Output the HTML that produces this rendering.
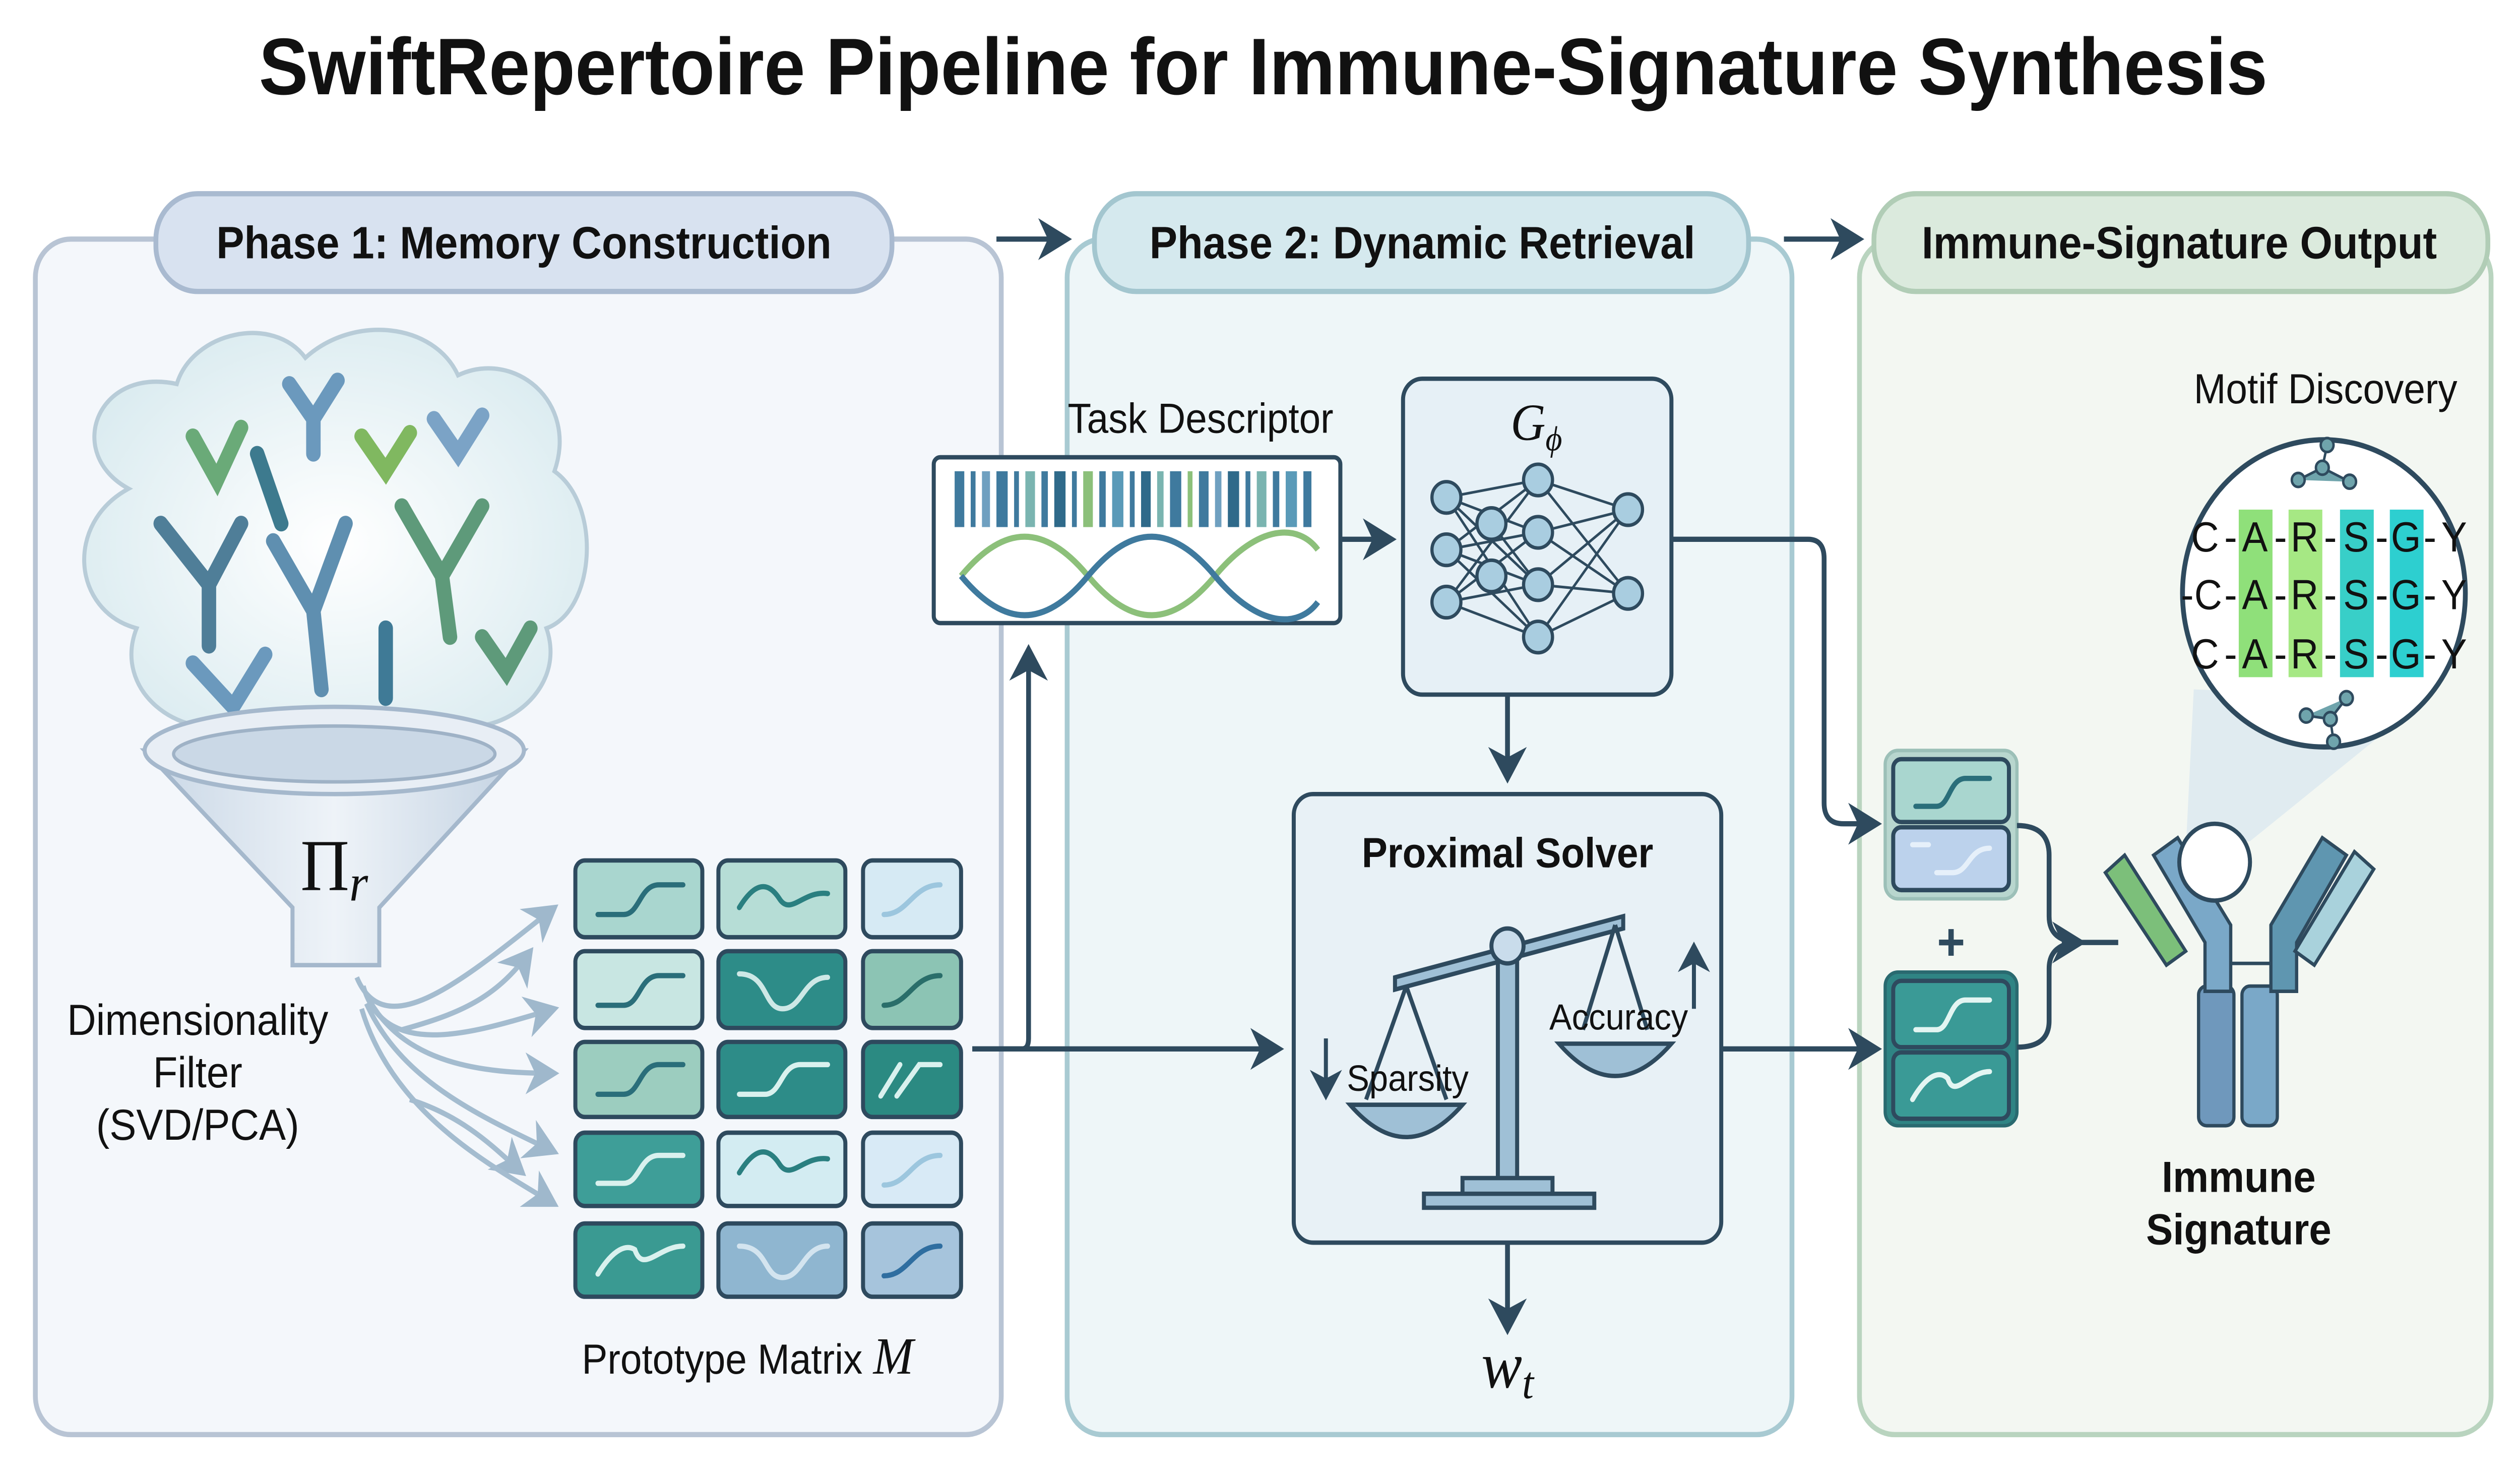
<!DOCTYPE html>
<html><head><meta charset="utf-8"><style>html,body{margin:0;padding:0;background:#fff;overflow:hidden;width:100%;height:100%}svg{display:block;width:100vw;height:100vh}</style></head>
<body>
<svg xmlns="http://www.w3.org/2000/svg" viewBox="0 0 1568 848" preserveAspectRatio="none" font-family="Liberation Sans, sans-serif">
<defs>
<marker id="ah" markerWidth="8" markerHeight="8" refX="6" refY="4" orient="auto" markerUnits="strokeWidth"><path d="M0,0 L7,4 L0,8 L2,4 Z" fill="#2e4a5e"/></marker>
<marker id="ahl" markerWidth="8" markerHeight="8" refX="6" refY="4" orient="auto" markerUnits="strokeWidth"><path d="M0,0 L7,4 L0,8 L2,4 Z" fill="#9fb8cc"/></marker>
<radialGradient id="cl" cx="0.5" cy="0.5" r="0.6"><stop offset="0" stop-color="#ffffff"/><stop offset="1" stop-color="#d8eaef"/></radialGradient>
<linearGradient id="fn" x1="0" x2="1"><stop offset="0" stop-color="#c9d7e6"/><stop offset="0.5" stop-color="#eef3f8"/><stop offset="1" stop-color="#c3d2e2"/></linearGradient>
</defs>
<rect width="1568" height="848" fill="#fff"/>
<text x="786" y="54" text-anchor="middle" font-size="46" font-weight="bold" fill="#111">SwiftRepertoire Pipeline for Immune-Signature Synthesis</text>

<rect x="22" y="137" width="601" height="685" rx="22" fill="#f4f7fb" stroke="#b8c4d4" stroke-width="3"/>
<rect x="664" y="137" width="451" height="685" rx="22" fill="#eef6f8" stroke="#a8cad2" stroke-width="3"/>
<rect x="1157" y="137" width="393" height="685" rx="22" fill="#f3f7f2" stroke="#b9d4bf" stroke-width="3"/>
<rect x="97" y="111" width="458" height="56" rx="26" fill="#d8e2f0" stroke="#a9bad0" stroke-width="3"/>
<rect x="681" y="111" width="407" height="56" rx="26" fill="#d5e9ee" stroke="#a3c6cf" stroke-width="3"/>
<rect x="1166" y="111" width="382" height="56" rx="26" fill="#dbeadd" stroke="#b1cdb6" stroke-width="3"/>
<text x="326" y="148" text-anchor="middle" font-size="26" font-weight="bold" fill="#111">Phase 1: Memory Construction</text>
<text x="885" y="148" text-anchor="middle" font-size="26" font-weight="bold" fill="#111">Phase 2: Dynamic Retrieval</text>
<text x="1356" y="148" text-anchor="middle" font-size="26" font-weight="bold" fill="#111">Immune-Signature Output</text>
<line x1="620" y1="137" x2="664" y2="137" stroke="#2e4a5e" stroke-width="3" marker-end="url(#ah)"/>
<line x1="1110" y1="137" x2="1157" y2="137" stroke="#2e4a5e" stroke-width="3" marker-end="url(#ah)"/>

<path d="M80,280 C40,260 60,210 110,220 C120,190 170,180 190,205 C220,180 270,185 285,215 C320,200 360,230 345,270 C375,290 370,350 340,360 C355,400 300,430 270,410 C240,440 170,440 150,415 C110,425 70,395 85,360 C45,350 40,300 80,280 Z" fill="url(#cl)" stroke="#b8ccd8" stroke-width="2.5"/>
<g stroke-linecap="round" stroke-width="9" fill="none">
<path d="M100,300 L130,335 L150,300 M130,335 L130,370" stroke="#4f7e98"/>
<path d="M170,310 L195,350 L215,300 M195,350 L200,395" stroke="#5f8fb0"/>
<path d="M250,290 L275,330 L300,290 M275,330 L280,365" stroke="#5e9a7a"/>
<path d="M120,250 L135,275 L150,245" stroke="#6aaa78"/>
<path d="M180,220 L195,240 L210,218 M195,240 L195,260" stroke="#6b99bd"/>
<path d="M225,250 L240,270 L255,248" stroke="#80b860"/>
<path d="M270,240 L285,260 L300,238" stroke="#7ba3c6"/>
<path d="M160,260 L175,300" stroke="#3d7a8e"/>
<path d="M240,360 L240,400" stroke="#3f7a96"/>
<path d="M300,365 L315,385 L330,360" stroke="#5e9a7a"/>
<path d="M120,380 L145,405 L165,375" stroke="#6b99bd"/>
<path d="M185,415 L200,440 L215,410" stroke="#80b860"/>
</g>
<path d="M90,430 L182,520 L182,553 L236,553 L236,520 L326,430 Z" fill="url(#fn)" stroke="#a5b8cc" stroke-width="2.5"/>
<ellipse cx="208" cy="430" rx="118" ry="25" fill="#e8eef5" stroke="#a5b8cc" stroke-width="2.5"/>
<ellipse cx="208" cy="432" rx="100" ry="16" fill="#cad8e6" stroke="#9fb2c6" stroke-width="2"/>
<text x="208" y="510" text-anchor="middle" font-family="Liberation Serif, serif" font-size="42" fill="#111">Π<tspan font-style="italic" font-size="30" dy="6">r</tspan></text>
<text x="123" y="593" text-anchor="middle" font-size="25" fill="#111">Dimensionality</text>
<text x="123" y="623" text-anchor="middle" font-size="25" fill="#111">Filter</text>
<text x="123" y="653" text-anchor="middle" font-size="25" fill="#111">(SVD/PCA)</text>
<g stroke="#a4bccf" stroke-width="3" fill="none" marker-end="url(#ahl)">
<path d="M222,560 C240,600 290,560 345,520"/>
<path d="M250,590 C290,580 310,570 330,545"/>
<path d="M226,565 C240,610 300,590 345,578"/>
<path d="M228,570 C250,610 300,615 345,615"/>
<path d="M228,575 C250,620 300,640 345,660"/>
<path d="M255,630 C290,640 310,660 325,672"/>
<path d="M225,578 C245,640 310,670 345,690"/>
</g>
<g stroke="#2e4a5e" stroke-width="2.5">
<rect x="358" y="493" width="79" height="44" rx="6" fill="#a9d6cf"/>
<rect x="447" y="493" width="79" height="44" rx="6" fill="#b6ddd6"/>
<rect x="537" y="493" width="61" height="44" rx="6" fill="#d6eaf4"/>
<rect x="358" y="545" width="79" height="44" rx="6" fill="#c8e6e2"/>
<rect x="447" y="545" width="79" height="44" rx="6" fill="#2d8c88"/>
<rect x="537" y="545" width="61" height="44" rx="6" fill="#8cc4b4"/>
<rect x="358" y="597" width="79" height="43" rx="6" fill="#9ccdbf"/>
<rect x="447" y="597" width="79" height="43" rx="6" fill="#2d8c88"/>
<rect x="537" y="597" width="61" height="43" rx="6" fill="#2b8a82"/>
<rect x="358" y="649" width="79" height="42" rx="6" fill="#3e9e98"/>
<rect x="447" y="649" width="79" height="42" rx="6" fill="#d3ecf2"/>
<rect x="537" y="649" width="61" height="42" rx="6" fill="#d8eaf6"/>
<rect x="358" y="701" width="79" height="42" rx="6" fill="#3a9a92"/>
<rect x="447" y="701" width="79" height="42" rx="6" fill="#8fb6d0"/>
<rect x="537" y="701" width="61" height="42" rx="6" fill="#a6c4dc"/>
</g>
<g fill="none" stroke-width="3" stroke-linecap="round">
<path d="M372,524 L388,524 C398,524 398,507 410,507 L425,507" stroke="#2a6e7a"/>
<path d="M460,520 C470,505 478,505 485,515 C492,525 500,510 515,512" stroke="#2a7f80"/>
<path d="M550,524 C565,524 568,507 585,507" stroke="#9cc6de"/>
<path d="M372,576 L388,576 C398,576 398,559 410,559 L425,559" stroke="#2a6e7a"/>
<path d="M460,558 C478,558 475,578 487,578 C499,578 500,560 515,560" stroke="#cde8e6"/>
<path d="M550,576 C565,576 568,559 585,559" stroke="#2a6e6a"/>
<path d="M372,627 L388,627 C398,627 398,610 410,610 L425,610" stroke="#2a6e7a"/>
<path d="M460,627 L476,627 C486,627 486,610 498,610 L515,610" stroke="#d9f1ee"/>
<path d="M548,628 L560,610 M558,628 L572,610 L585,610" stroke="#d9f1ee"/>
<path d="M372,678 L388,678 C398,678 398,662 410,662 L425,662" stroke="#d9f1ee"/>
<path d="M460,672 C470,657 478,657 485,667 C492,677 500,662 515,664" stroke="#2a7f80"/>
<path d="M550,679 C565,679 568,662 585,662" stroke="#9cc6de"/>
<path d="M372,730 C382,715 390,713 395,716 C400,730 410,714 425,714" stroke="#d9f1ee"/>
<path d="M460,714 C478,714 475,732 487,732 C499,732 500,714 515,714" stroke="#d3e4ef"/>
<path d="M550,731 C565,731 568,714 585,714" stroke="#2f6ea0"/>
</g>
<text x="362" y="787" font-size="24" fill="#111">Prototype Matrix <tspan font-family="Liberation Serif, serif" font-style="italic" font-size="30">M</tspan></text>

<path d="M605,601 L636,601 Q640,601 640,595 L640,372" stroke="#2e4a5e" stroke-width="3" fill="none" marker-end="url(#ah)"/>
<line x1="605" y1="601" x2="796" y2="601" stroke="#2e4a5e" stroke-width="3" marker-end="url(#ah)"/>
<text x="747" y="248" text-anchor="middle" font-size="24" fill="#111">Task Descriptor</text>
<rect x="581" y="262" width="253" height="95" rx="4" fill="#fff" stroke="#2e4a5e" stroke-width="2.5"/>
<g fill="#3f7a9e">
<rect x="594" y="270" width="6" height="32"/><rect x="604" y="270" width="3" height="32"/><rect x="611" y="270" width="5" height="32" fill="#6fa0c0"/><rect x="620" y="270" width="7" height="32"/><rect x="631" y="270" width="3" height="32"/><rect x="638" y="270" width="6" height="32" fill="#7ab4b0"/><rect x="648" y="270" width="4" height="32"/><rect x="656" y="270" width="7" height="32" fill="#2f6a8a"/><rect x="667" y="270" width="3" height="32"/><rect x="674" y="270" width="6" height="32" fill="#8cc07a"/><rect x="684" y="270" width="4" height="32"/><rect x="692" y="270" width="7" height="32" fill="#5a9ab8"/><rect x="703" y="270" width="3" height="32"/><rect x="710" y="270" width="6" height="32" fill="#2f6a8a"/><rect x="720" y="270" width="4" height="32" fill="#7ab4b0"/><rect x="728" y="270" width="7" height="32"/><rect x="739" y="270" width="3" height="32" fill="#8cc07a"/><rect x="746" y="270" width="6" height="32"/><rect x="756" y="270" width="4" height="32" fill="#6fa0c0"/><rect x="764" y="270" width="7" height="32" fill="#2f6a8a"/><rect x="775" y="270" width="3" height="32"/><rect x="782" y="270" width="6" height="32" fill="#7ab4b0"/><rect x="792" y="270" width="4" height="32"/><rect x="800" y="270" width="7" height="32" fill="#5a9ab8"/><rect x="811" y="270" width="5" height="32"/>
</g>
<g fill="none" stroke-width="3.5">
<path d="M598,330 C625,300 650,300 677,330 C704,360 729,360 756,330 C783,300 808,300 820,315" stroke="#8cc07a"/>
<path d="M598,330 C625,360 650,360 677,330 C704,300 729,300 756,330 C783,360 808,360 820,345" stroke="#3f7a9e"/>
</g>
<line x1="834" y1="309" x2="866" y2="309" stroke="#2e4a5e" stroke-width="3" marker-end="url(#ah)"/>
<rect x="873" y="217" width="167" height="181" rx="12" fill="#e6f0f6" stroke="#2e4a5e" stroke-width="2.5"/>
<text x="956" y="252" text-anchor="middle" font-family="Liberation Serif, serif" font-style="italic" font-size="30" fill="#111">G<tspan font-size="20" dy="6">ϕ</tspan></text>
<g stroke="#2e4a5e" stroke-width="1.5">
<path d="M900,285 L957,275 M900,285 L957,305 M900,285 L957,335 M900,285 L957,365 M900,315 L957,275 M900,315 L957,305 M900,315 L957,335 M900,315 L957,365 M900,345 L957,275 M900,345 L957,305 M900,345 L957,335 M900,345 L957,365 M928,300 L957,335 M957,275 L1013,292 M957,305 L1013,292 M957,335 L1013,292 M957,365 L1013,292 M957,275 L1013,340 M957,305 L1013,340 M957,335 L1013,340 M957,365 L1013,340"/>
</g>
<g fill="#a9cde0" stroke="#2e4a5e" stroke-width="2">
<circle cx="900" cy="285" r="9"/><circle cx="900" cy="315" r="9"/><circle cx="900" cy="345" r="9"/>
<circle cx="928" cy="300" r="9"/><circle cx="928" cy="330" r="9"/>
<circle cx="957" cy="275" r="9"/><circle cx="957" cy="305" r="9"/><circle cx="957" cy="335" r="9"/><circle cx="957" cy="365" r="9"/>
<circle cx="1013" cy="292" r="9"/><circle cx="1013" cy="340" r="9"/>
</g>
<line x1="938" y1="398" x2="938" y2="446" stroke="#2e4a5e" stroke-width="3" marker-end="url(#ah)"/>
<rect x="805" y="455" width="266" height="257" rx="12" fill="#e8f1f6" stroke="#2e4a5e" stroke-width="2.5"/>
<text x="938" y="497" text-anchor="middle" font-size="24" font-weight="bold" fill="#111">Proximal Solver</text>
<g stroke="#2e4a5e" stroke-width="2.5" fill="#9fc0d6">
<rect x="932" y="540" width="12" height="140"/>
<rect x="910" y="675" width="56" height="10"/>
<rect x="886" y="684" width="106" height="8"/>
<path d="M868,560 L1010,525 L1010,532 L868,567 Z"/>
<circle cx="938" cy="542" r="10" fill="#c9dceb"/>
<path d="M875,565 L850,630 M875,565 L900,630 M1005,530 L985,590 M1005,530 L1025,590" fill="none"/>
<path d="M840,633 Q875,670 910,633 Z"/>
<path d="M970,598 Q1005,635 1040,598 Z"/>
</g>
<text x="964" y="590" font-size="21" fill="#111">Accuracy</text>
<text x="838" y="625" font-size="21" fill="#111">Sparsity</text>
<line x1="1054" y1="578" x2="1054" y2="542" stroke="#2e4a5e" stroke-width="2.5" marker-end="url(#ah)"/>
<line x1="825" y1="595" x2="825" y2="628" stroke="#2e4a5e" stroke-width="2.5" marker-end="url(#ah)"/>
<line x1="938" y1="712" x2="938" y2="762" stroke="#2e4a5e" stroke-width="3" marker-end="url(#ah)"/>
<text x="938" y="795" text-anchor="middle" font-family="Liberation Serif, serif" font-style="italic" font-size="38" fill="#111">w<tspan font-size="26" dy="6">t</tspan></text>
<path d="M1040,309 L1125,309 Q1135,309 1135,320 L1135,460 Q1135,472 1147,472 L1168,472" stroke="#2e4a5e" stroke-width="3" fill="none" marker-end="url(#ah)"/>
<line x1="1071" y1="601" x2="1168" y2="601" stroke="#2e4a5e" stroke-width="3" marker-end="url(#ah)"/>

<rect x="1173" y="430" width="82" height="85" rx="8" fill="#b8d6ce" stroke="#9cc0b8" stroke-width="2"/>
<rect x="1178" y="435" width="72" height="36" rx="5" fill="#a9d6cf" stroke="#2e4a5e" stroke-width="2.5"/>
<rect x="1178" y="474" width="72" height="36" rx="5" fill="#bcd2ec" stroke="#2e4a5e" stroke-width="2.5"/>
<rect x="1173" y="557" width="82" height="88" rx="8" fill="#2f8484" stroke="#2a6a70" stroke-width="2"/>
<rect x="1178" y="562" width="72" height="38" rx="5" fill="#3a9a96" stroke="#2e4a5e" stroke-width="2.5"/>
<rect x="1178" y="603" width="72" height="38" rx="5" fill="#3a9a96" stroke="#2e4a5e" stroke-width="2.5"/>
<g fill="none" stroke-width="3" stroke-linecap="round">
<path d="M1192,462 L1205,462 C1213,462 1213,446 1223,446 L1238,446" stroke="#2a6e7a"/>
<path d="M1190,484 L1200,484 M1205,500 L1215,500 C1225,500 1225,486 1238,486" stroke="#e6f0fa"/>
<path d="M1192,590 L1205,590 C1213,590 1213,573 1223,573 L1238,573" stroke="#e3f5f2"/>
<path d="M1190,630 C1200,614 1208,614 1212,618 C1216,630 1225,614 1238,614" stroke="#e3f5f2"/>
</g>
<text x="1214" y="550" text-anchor="middle" font-size="30" font-weight="bold" fill="#2e4a5e">+</text>
<path d="M1255,473 Q1275,473 1275,490 L1275,525 Q1275,540 1295,540 L1318,540 M1255,600 Q1275,600 1275,585 L1275,555 Q1275,540 1295,540" stroke="#2e4a5e" stroke-width="3" fill="none" marker-end="url(#ah)"/>
<path d="M1360,488 L1365,395 L1510,400 L1400,482 Z" fill="#dbe7ef" opacity="0.8"/>
<circle cx="1446" cy="340" r="88" fill="#fff" stroke="#2e4a5e" stroke-width="3"/>
<g>
<rect x="1393" y="292" width="21" height="96" fill="#8fe07a"/>
<rect x="1424" y="292" width="21" height="96" fill="#a6e884"/>
<rect x="1456" y="292" width="21" height="96" fill="#38cfc8"/>
<rect x="1487" y="292" width="21" height="96" fill="#2dcfd0"/>
</g>
<g font-size="24" fill="#111" text-anchor="middle">
<g transform="translate(0,316)"><text x="1372">C</text><text x="1388">-</text><text x="1403">A</text><text x="1419">-</text><text x="1434">R</text><text x="1450">-</text><text x="1466">S</text><text x="1482">-</text><text x="1497">G</text><text x="1512">-</text><text x="1527">Y</text></g>
<g transform="translate(0,349)"><text x="1361">-</text><text x="1374">C</text><text x="1388">-</text><text x="1403">A</text><text x="1419">-</text><text x="1434">R</text><text x="1450">-</text><text x="1466">S</text><text x="1482">-</text><text x="1497">G</text><text x="1512">-</text><text x="1527">Y</text></g>
<g transform="translate(0,383)"><text x="1372">C</text><text x="1388">-</text><text x="1403">A</text><text x="1419">-</text><text x="1434">R</text><text x="1450">-</text><text x="1466">S</text><text x="1482">-</text><text x="1497">G</text><text x="1512">-</text><text x="1527">Y</text></g>
</g>
<g stroke="#2e4a5e" stroke-width="1.5" fill="#6fa4ac">
<path d="M1430,275 L1445,268 L1462,276 M1445,268 L1448,255"/><circle cx="1430" cy="275" r="4"/><circle cx="1445" cy="268" r="4"/><circle cx="1462" cy="276" r="4"/><circle cx="1448" cy="255" r="4"/>
<path d="M1435,410 L1450,412 L1460,400 M1450,412 L1452,425"/><circle cx="1435" cy="410" r="4"/><circle cx="1450" cy="412" r="4"/><circle cx="1460" cy="400" r="4"/><circle cx="1452" cy="425" r="4"/>
</g>
<text x="1447" y="231" text-anchor="middle" font-size="24" fill="#111">Motif Discovery</text>
<g stroke="#2e4a5e" stroke-width="2">
<rect x="1368" y="565" width="22" height="80" rx="5" fill="#6f98bc"/>
<rect x="1395" y="565" width="22" height="80" rx="5" fill="#7aa8c8"/>
<path d="M1372,568 L1372,540 L1340,490 L1355,480 L1388,530 L1388,568 Z" fill="#7aa8c8"/>
<path d="M1413,568 L1413,530 L1445,480 L1460,490 L1429,540 L1429,568 Z" fill="#5f96b0"/>
<path d="M1310,500 L1322,490 L1360,545 L1348,553 Z" fill="#7cbf7a"/>
<path d="M1465,488 L1477,498 L1440,553 L1428,545 Z" fill="#a9d2dc"/>
</g>
<line x1="1388" y1="552" x2="1413" y2="552" stroke="#2e4a5e" stroke-width="2"/>
<circle cx="1378" cy="494" r="22" fill="#fff" stroke="#2e4a5e" stroke-width="2.5"/>
<text x="1393" y="683" text-anchor="middle" font-size="25" font-weight="bold" fill="#111">Immune</text>
<text x="1393" y="713" text-anchor="middle" font-size="25" font-weight="bold" fill="#111">Signature</text>
</svg>
</body></html>
